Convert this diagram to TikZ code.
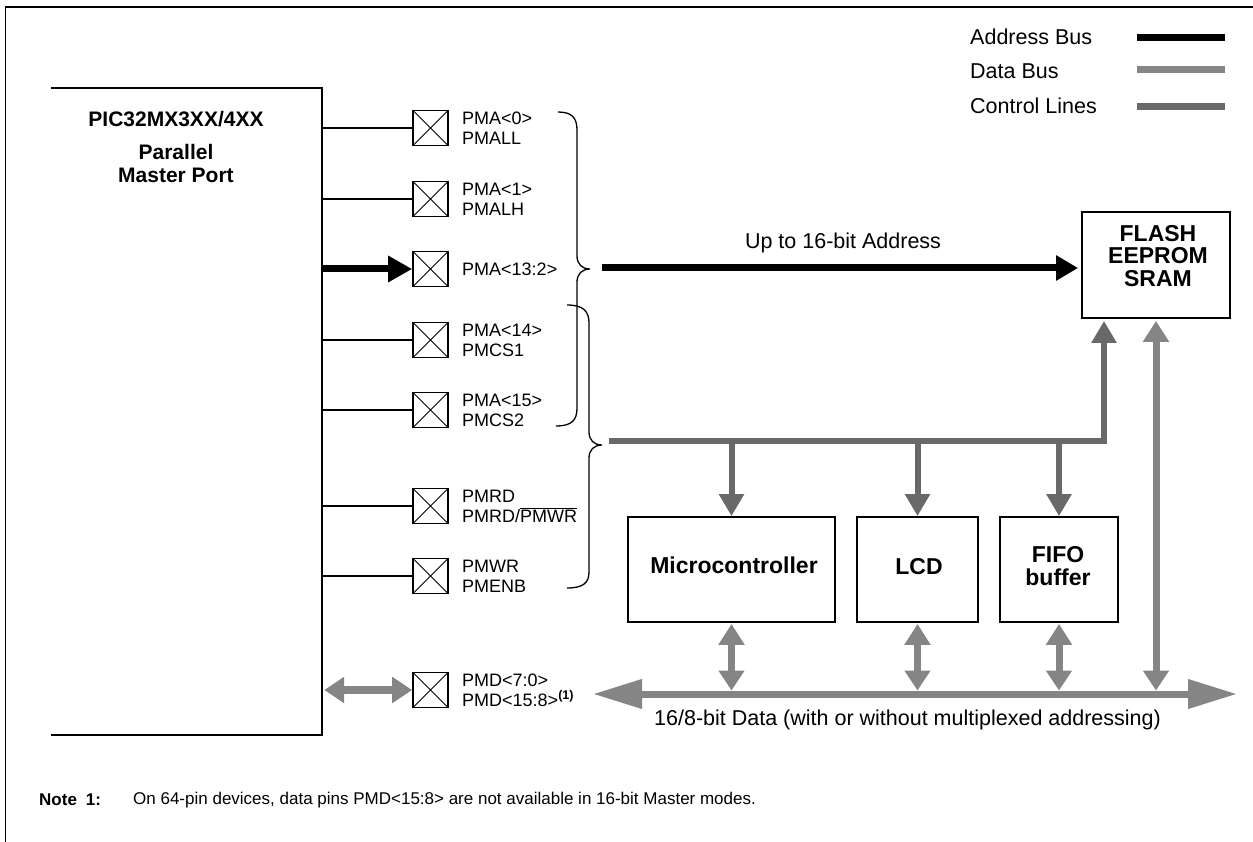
\documentclass[tikz,border=0pt]{standalone}
\usepackage{fontspec}
\setmainfont{Liberation Sans}
\usetikzlibrary{arrows.meta}
\definecolor{databus}{HTML}{858585}
\definecolor{ctrlbus}{HTML}{696969}
\begin{document}
\begin{tikzpicture}[x=1pt,y=-1pt,
  pinbox/.style={draw, line width=1.6pt, minimum size=35pt, inner sep=0pt,
    path picture={\draw[line width=0.9pt] (path picture bounding box.north west) -- (path picture bounding box.south east)
      (path picture bounding box.south west) -- (path picture bounding box.north east);}},
  pinlbl/.style={anchor=west, align=left, inner sep=0pt, font=\fontsize{18}{20}\selectfont},
  biglbl/.style={inner sep=0pt, font=\fontsize{21.5}{24}\selectfont},
  boldlbl/.style={inner sep=0pt, align=center, font=\fontsize{23}{22.5}\selectfont\bfseries},
  membox/.style={draw, line width=1.8pt, inner sep=0pt, minimum height=105pt},
  thinline/.style={line width=1.3pt},
  addr/.style={line width=7pt, black},
  ctrl/.style={line width=6pt, ctrlbus},
  data/.style={line width=7pt, databus},
  tipA/.style={-{Triangle[length=22pt,width=24pt]}},
  tipC/.style={-{Triangle[length=22pt,width=24pt]}},
  tipD/.style={{Triangle[length=21pt,width=25pt]}-{Triangle[length=20pt,width=25pt]}},
]
\useasboundingbox (0,0) rectangle (1253,842);
% frame
\draw[line width=1.5pt] (5.5,842) -- (5.5,7) -- (1253,7);

% legend
\node[biglbl, anchor=west] (lgA) at (970,37) {Address Bus};
\node[biglbl, anchor=west] (lgD) at (970,71) {Data Bus};
\node[biglbl, anchor=west] (lgC) at (970,106) {Control Lines};
\draw[addr] (1137,38) -- (1225,38);
\draw[data] (1137,70) -- (1225,70);
\draw[ctrl, line width=7pt] (1137,107) -- (1225,107);

% PIC block
\node[minimum width=271pt, minimum height=647pt, inner sep=0pt] (pic) at (186.5,411.5) {};
\draw[line width=1.8pt] (pic.north west) -- (pic.north east) -- (pic.south east) -- (pic.south west);
\node[inner sep=0pt, font=\fontsize{21}{23}\selectfont\bfseries] (pict) at (176,119.5) {PIC32MX3XX/4XX};
\node[inner sep=0pt, align=center, font=\fontsize{21}{23}\selectfont\bfseries] (picu) at (176,163) {Parallel\\Master Port};

% pins
\node[pinbox] (pa0) at (430.5,128) {};
\node[pinbox] (pa1) at (430.5,199) {};
\node[pinbox] (pa2) at (430.5,269) {};
\node[pinbox] (pa3) at (430.5,340) {};
\node[pinbox] (pa4) at (430.5,410) {};
\node[pinbox] (prd) at (430.5,506) {};
\node[pinbox] (pwr) at (430.5,576) {};
\node[pinbox] (pmd) at (430.5,690) {};
\node[pinlbl] (la0) at (462,128) {PMA<0>\\PMALL};
\node[pinlbl] (la1) at (462,199) {PMA<1>\\PMALH};
\node[pinlbl] (la2) at (462,269) {PMA<13:2>};
\node[pinlbl] (la3) at (462,340) {PMA<14>\\PMCS1};
\node[pinlbl] (la4) at (462,410) {PMA<15>\\PMCS2};
\node[pinlbl] (lrd) at (462,506) {PMRD\\PMRD/$\overline{\mbox{PMWR}}$};
\node[pinlbl] (lwr) at (462,576) {PMWR\\PMENB};
\node[pinlbl] (lmd) at (462,690) {PMD<7:0>\\PMD<15:8>\textsuperscript{\bfseries(1)}};

\draw[thinline] (pic.east |- pa0) -- (pa0.west);
\draw[thinline] (pic.east |- pa1) -- (pa1.west);
\draw[addr, -{Triangle[length=24pt,width=25pt]}] (pic.east |- pa2) -- (pa2.west);
\draw[thinline] (pic.east |- pa3) -- (pa3.west);
\draw[thinline] (pic.east |- pa4) -- (pa4.west);
\draw[thinline] (pic.east |- prd) -- (prd.west);
\draw[thinline] (pic.east |- pwr) -- (pwr.west);
\draw[data, line width=8pt, {Triangle[length=20pt,width=25pt]}-{Triangle[length=20pt,width=25pt]}] ([xshift=2pt]pic.east |- pmd) -- (pmd.west);

% braces
\draw[line width=1.3pt] (558,112) .. controls (572,112) and (577,118) .. (577,130) -- (577,256)
  .. controls (577,264) and (582,269) .. (590,269) .. controls (582,269) and (577,274) .. (577,282)
  -- (577,408) .. controls (577,420) and (572,426) .. (556,426);
\draw[line width=1.3pt] (567,305) .. controls (583,305) and (589,311) .. (589,323) -- (589,432)
  .. controls (589,440) and (594,445) .. (602,445) .. controls (594,445) and (589,450) .. (589,458)
  -- (589,572) .. controls (589,583) and (583,588) .. (567,588);

% memory / devices
\node[membox, minimum width=148pt, minimum height=106pt] (flash) at (1156,265) {};
\node[boldlbl] (flasht) at (1158,256) {FLASH\\EEPROM\\SRAM};
\node[membox, minimum width=207pt] (micro) at (731.5,569.5) {};
\node[boldlbl] (microt) at (734,565) {Microcontroller};
\node[membox, minimum width=121pt] (lcd) at (917.5,569.5) {};
\node[boldlbl] (lcdt) at (919,567) {LCD};
\node[membox, minimum width=118pt] (fifo) at (1059,569.5) {};
\node[boldlbl] (fifot) at (1058,566) {FIFO\\buffer};

% address bus
\coordinate (al) at (602,268);
\draw[addr, tipA] (al) -- ([xshift=-3pt]al -| flash.west);
\node[biglbl] (alt) at (843,243) {Up to 16-bit Address};

% control bus
\coordinate (cbl) at (609,441);
\coordinate (cbc) at (1104,441);
\draw[ctrl, line join=miter, tipC] (cbl) -- (cbc) -- ([yshift=-2pt]cbc |- flash.south);
\draw[ctrl, tipC] (micro.north |- cbl) -- (micro.north);
\draw[ctrl, tipC] (lcd.north |- cbl) -- (lcd.north);
\draw[ctrl, tipC] (fifo.north |- cbl) -- (fifo.north);

% data bus
\coordinate (dbl) at (593,694);
\coordinate (dbr) at (1237,694);
\coordinate (dbt) at (593,690.5);
\draw[data, {Triangle[length=49pt,width=28pt]}-{Triangle[length=49pt,width=28pt]}] (dbl) -- (dbr);
\draw[data, tipD] ([yshift=-2pt]flash.south) -- (flash.south |- dbt);
\draw[data, tipD] ([yshift=-1pt]micro.south) -- (micro.south |- dbt);
\draw[data, tipD] ([yshift=-1pt]lcd.south) -- (lcd.south |- dbt);
\draw[data, tipD] ([yshift=-1pt]fifo.south) -- (fifo.south |- dbt);
\node[biglbl] (dbtext) at (907.5,720) {16/8-bit Data (with or without multiplexed addressing)};

% note
\node[anchor=west, inner sep=0pt, font=\fontsize{17}{20}\selectfont\bfseries] (note1) at (39,800) {Note\hspace{9pt}1:};
\node[anchor=west, inner sep=0pt, font=\fontsize{17}{20}\selectfont] (note2) at (133,800) {On 64-pin devices, data pins PMD<15:8> are not available in 16-bit Master modes.};
\end{tikzpicture}
\end{document}
